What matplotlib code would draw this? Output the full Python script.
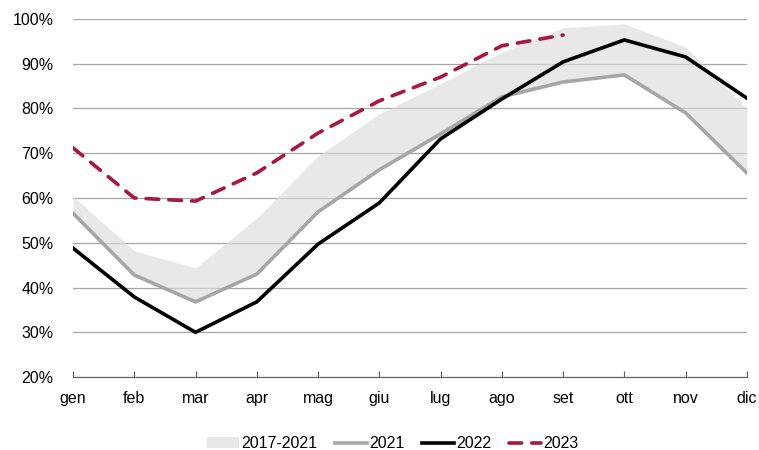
import matplotlib.pyplot as plt
import numpy as np

plt.rcParams['font.family'] = ['Liberation Sans', 'DejaVu Sans']

months = ['gen', 'feb', 'mar', 'apr', 'mag', 'giu', 'lug', 'ago', 'set', 'ott', 'nov', 'dic']

# 2017-2021 range (min / max)
band_low = [56.6, 42.8, 36.8, 43.0, 56.9, 66.3, 74.3, 82.3, 85.9, 87.5, 79.0, 65.6]
band_high = [60.4, 48.2, 44.4, 55.5, 69.4, 78.8, 85.5, 92.6, 98.0, 98.9, 93.7, 80.1]

y2021 = [56.6, 42.8, 36.8, 43.0, 56.9, 66.3, 74.3, 82.6, 85.9, 87.5, 79.0, 65.6]
y2022 = [48.8, 37.9, 30.0, 36.8, 49.7, 58.9, 73.2, 82.1, 90.4, 95.3, 91.5, 82.3]
y2023 = [71.2, 60.0, 59.3, 65.6, 74.5, 81.7, 87.0, 94.0, 96.4]

x = np.arange(len(months))

fig, ax = plt.subplots(figsize=(7.59, 4.5), dpi=100)
fig.subplots_adjust(left=0.0962, right=0.984, top=0.958, bottom=0.162)

ax.set_axisbelow(True)
ax.grid(axis='y', color='#a6a6a6', linewidth=0.9)
ax.fill_between(x, band_low, band_high, color='#dcdcdc', alpha=0.65, linewidth=0, label='2017-2021')
ax.plot(x, y2021, color='#a6a6a6', linewidth=2.6, label='2021')
ax.plot(x, y2022, color='black', linewidth=2.6, label='2022')
ax.plot(x[:len(y2023)], y2023, color='#a8173f', linewidth=2.6, linestyle=(0, (3.5, 2.8)),
        dash_capstyle='round', label='2023')

ax.set_xlim(0, len(months) - 1)
ax.set_ylim(20, 100)
ax.set_xticks(x)
ax.set_xticklabels(months)
ax.set_yticks(np.arange(20, 101, 10))
ax.set_yticklabels([f'{v}%' for v in range(20, 101, 10)])
ax.tick_params(axis='x', direction='in', length=4, color='#595959', labelsize=11.5, pad=10)
ax.tick_params(axis='y', length=0, labelsize=11.5, pad=14)

for s in ['top', 'right', 'left']:
    ax.spines[s].set_visible(False)
ax.spines['bottom'].set_color('#595959')

ax.legend(loc='upper center', bbox_to_anchor=(0.475, -0.125), ncol=4, frameon=False,
          fontsize=11.5, handlelength=2.0, handletextpad=0.15, columnspacing=1.1)

fig.savefig('out.png')
